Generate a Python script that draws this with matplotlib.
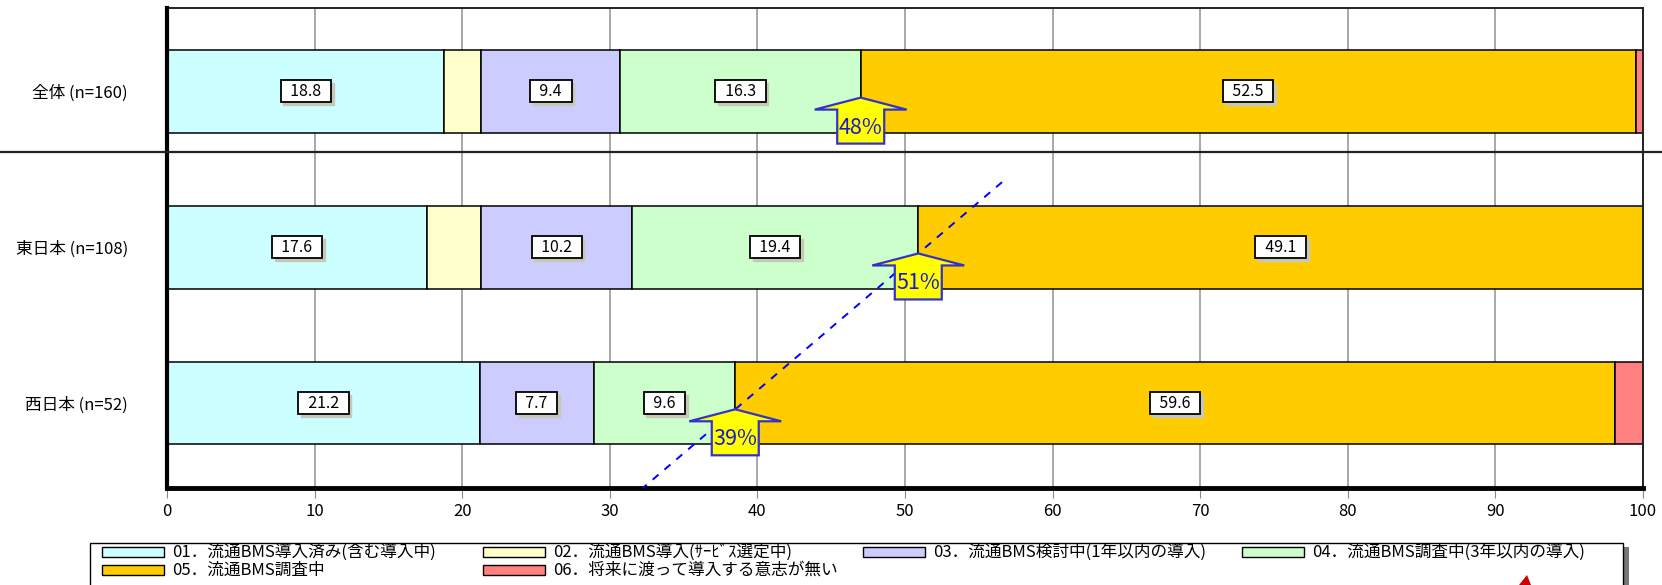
import numpy as np
import matplotlib.pyplot as plt
from matplotlib.patches import Polygon, Rectangle
from matplotlib.lines import Line2D

plt.rcParams['font.family'] = ['Noto Sans CJK JP', 'DejaVu Sans']

# Survey groups (top to bottom)
groups = ['全体 (n=160)', '東日本 (n=108)', '西日本 (n=52)']

# Answer categories and their shares (%) per group
series_names = ['01．流通BMS導入済み(含む導入中)',
                '02．流通BMS導入(ｻｰﾋﾞｽ選定中)',
                '03．流通BMS検討中(1年以内の導入)',
                '04．流通BMS調査中(3年以内の導入)',
                '05．流通BMS調査中',
                '06．将来に渡って導入する意志が無い']
v01 = [18.8, 17.6, 21.2]
v02 = [2.5, 3.7, 0.0]
v03 = [9.4, 10.2, 7.7]
v04 = [16.3, 19.4, 9.6]
v05 = [52.5, 49.1, 59.6]
v06 = [0.6, 0.0, 1.9]
values = [v01, v02, v03, v04, v05, v06]
colors = ['#CCFFFF', '#FFFFCC', '#CCCCFF', '#CCFFCC', '#FFCC00', '#FF8080']
labelled = [True, False, True, True, True, False]

# Callout arrows showing the share of groups that are at least investigating
arrow_labels = ['48%', '51%', '39%']

W, H = 1662, 585
fig = plt.figure(figsize=(W / 100, H / 100), dpi=100)
ax = fig.add_axes([167 / W, 1 - 488 / H, (1643 - 167) / W, (488 - 8) / H])

y = np.arange(len(groups))
left = np.zeros(len(groups))
for vals, col, lab in zip(values, colors, labelled):
    vals = np.array(vals)
    ax.barh(y, vals, left=left, height=0.53, color=col, edgecolor='black',
            linewidth=1.1, zorder=2)
    if lab:
        for yi, l, v in zip(y, left, vals):
            if v <= 0:
                continue
            cx = l + v / 2
            ax.annotate(f'  {v:.1f}  ', (cx, yi), xytext=(2, -2), textcoords='offset points',
                        ha='center', va='center', fontsize=11.5, color='#C8C8B8',
                        bbox=dict(boxstyle='square,pad=0.15', fc='#C8C8B8', ec='#C8C8B8'),
                        zorder=4)
            ax.text(cx, yi, f'  {v:.1f}  ', ha='center', va='center', fontsize=11.5,
                    color='black', zorder=5,
                    bbox=dict(boxstyle='square,pad=0.15', fc='white', ec='black', lw=1.3))
    left = left + vals

ax.set_xlim(0, 100)
ax.set_ylim(2.545, -0.535)

# pixel -> data conversion for the arrow shape
dxp = 100 / (1643 - 167)
dyp = (2.545 + 0.535) / (488 - 8)

tips_x = np.array(v01) + np.array(v02) + np.array(v03) + np.array(v04)
tips_y = y + 0.04
for tx, ty, txt in zip(tips_x, tips_y, arrow_labels):
    pts = [(tx, ty),
           (tx + 46 * dxp, ty + 12 * dyp),
           (tx + 23.5 * dxp, ty + 12 * dyp),
           (tx + 23.5 * dxp, ty + 46 * dyp),
           (tx - 23.5 * dxp, ty + 46 * dyp),
           (tx - 23.5 * dxp, ty + 12 * dyp),
           (tx - 46 * dxp, ty + 12 * dyp)]
    ax.add_patch(Polygon(pts, closed=True, fc='#FFFF00', ec='#3333CC', lw=1.6,
                         zorder=7, clip_on=False))
    ax.text(tx, ty + 30 * dyp, txt, ha='center', va='center', fontsize=15.5,
            color='#1A1ACC', zorder=8)

# dashed trend line through the 東日本 / 西日本 arrow tips
slope = (tips_y[2] - tips_y[1]) / (tips_x[2] - tips_x[1])
line_x = np.array([32.1, 56.6])
line_y = tips_y[1] + slope * (line_x - tips_x[1])
ax.plot(line_x, line_y, color='#0000FF', lw=1.4, ls=(0, (4, 4)), zorder=6)

ax.set_yticks(y)
ax.set_yticklabels(groups, fontsize=12)
ax.tick_params(axis='y', length=0, pad=28)
ax.set_xticks(np.arange(0, 101, 10))
ax.tick_params(axis='x', length=7, color='#888888', labelsize=12, pad=4)
ax.grid(axis='x', color='#999999', lw=1.2, zorder=0)
ax.set_axisbelow(True)
for s in ['top', 'right']:
    ax.spines[s].set_linewidth(1.4)
    ax.spines[s].set_color('#222222')
ax.spines['left'].set_linewidth(3)
ax.spines['bottom'].set_linewidth(3.5)
ax.spines['left'].set_zorder(3)

# separator between total and regional rows, across the whole figure
fig.add_artist(Line2D([0, 1], [1 - 152 / H, 1 - 152 / H], color='#222222', lw=1.6))

# legend
def fx(px):
    return px / W

def fy(py):
    return 1 - py / H

fig.add_artist(Rectangle((fx(95), fy(620)), fx(1629) - fx(95), fy(547) - fy(620),
                         fc='#777777', ec='none', clip_on=False))
fig.add_artist(Rectangle((fx(90), fy(620)), fx(1623) - fx(90), fy(543) - fy(620),
                         fc='white', ec='black', lw=1.0, clip_on=False))
col_x = [102, 483, 863, 1242]
row_y = [552, 570]
for i, (name, col) in enumerate(zip(series_names, colors)):
    r, c = divmod(i, 4)
    px, py = col_x[c], row_y[r]
    fig.add_artist(Rectangle((fx(px), fy(py + 5)), fx(62), 10 / H, fc=col,
                             ec='black', lw=1.0))
    fig.text(fx(px + 70), fy(py), name, ha='left', va='center', fontsize=12)

fig.add_artist(Polygon([(fx(1519), fy(585)), (fx(1527), fy(575)), (fx(1531), fy(585))],
                       closed=True, fc='#CC0000', ec='none'))

fig.savefig('out.png', dpi=100)
